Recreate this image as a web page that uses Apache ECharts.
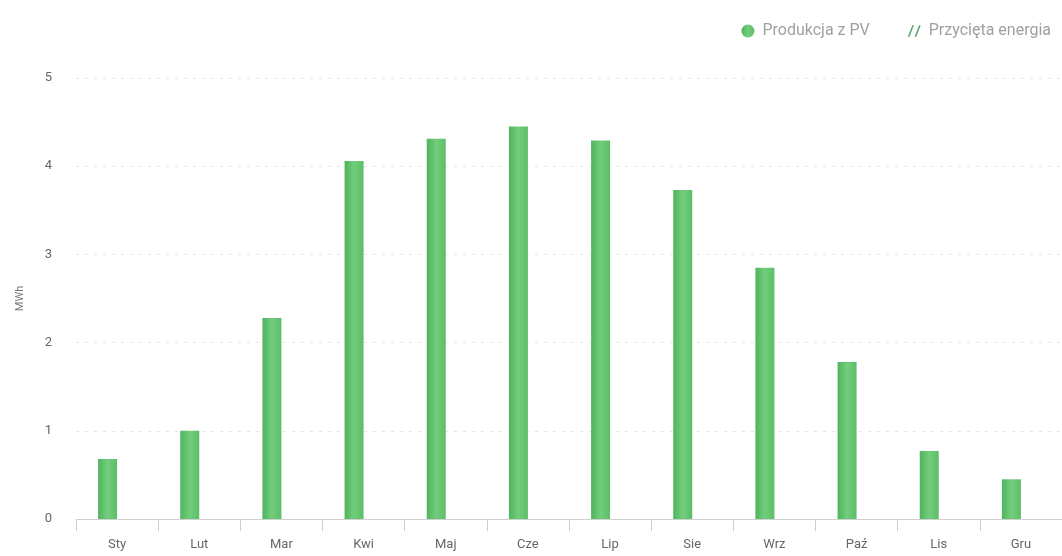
<!DOCTYPE html>
<html>
<head>
<meta charset="utf-8">
<script src="https://cdn.jsdelivr.net/npm/echarts@6/dist/echarts.min.js"></script>
<style>
html,body{margin:0;padding:0;background:#fff;}
#chart{width:1062px;height:556px;}
</style>
</head>
<body>
<div id="chart"></div>
<script>
const months = ['Sty','Lut','Mar','Kwi','Maj','Cze','Lip','Sie','Wrz','Paź','Lis','Gru'];
const pvProduction = [0.68, 1.00, 2.28, 4.06, 4.31, 4.45, 4.29, 3.73, 2.85, 1.78, 0.77, 0.45];
const curtailedEnergy = [0, 0, 0, 0, 0, 0, 0, 0, 0, 0, 0, 0];
const seriesNames = ['Produkcja z PV', 'Przycięta energia'];
const yAxisName = 'MWh';

const chart = echarts.init(document.getElementById('chart'), null, {renderer:'canvas'});
const hatchIcon = 'path://M4,0 L5.5,0 L1.5,10 L0,10 Z M10,0 L11.5,0 L7.5,10 L6,10 Z';
chart.setOption({
  animation: false,
  textStyle: {fontFamily: 'Roboto, "Noto Sans", sans-serif'},
  legend: {
    top: 18,
    right: 6,
    itemWidth: 13,
    itemHeight: 13,
    itemGap: 38,
    textStyle: {color: '#a0a0a0', fontSize: 16, padding: [0, 0, 0, 3]},
    data: [
      {name: seriesNames[0], icon: 'circle'},
      {name: seriesNames[1], icon: hatchIcon}
    ]
  },
  grid: {left: 76, right: -9, top: 78, bottom: 37},
  xAxis: {
    type: 'category',
    data: months,
    axisLine: {lineStyle: {color: '#cfcfcf', width: 1}},
    axisTick: {show: true, length: 12, lineStyle: {color: '#cfcfcf'}},
    axisLabel: {color: '#666', fontSize: 13, margin: 19}
  },
  yAxis: {
    type: 'value',
    min: 0,
    max: 5,
    interval: 1,
    name: yAxisName,
    nameLocation: 'middle',
    nameGap: 50,
    nameRotate: 90,
    nameTextStyle: {color: '#777', fontSize: 11},
    axisLine: {show: false},
    axisTick: {show: false},
    axisLabel: {color: '#666', fontSize: 13, margin: 24},
    splitLine: {lineStyle: {color: '#e6e6e6', type: [3, 6]}}
  },
  series: [
    {
      name: seriesNames[0],
      type: 'bar',
      data: pvProduction,
      barWidth: 19,
      barGap: '0%',
      itemStyle: {
        color: {
          type: 'linear', x: 0, y: 0, x2: 1, y2: 0,
          colorStops: [
            {offset: 0, color: '#4fb45e'},
            {offset: 0.5, color: '#72cd7c'},
            {offset: 1, color: '#5dbd68'}
          ]
        }
      }
    },
    {
      name: seriesNames[1],
      type: 'bar',
      data: curtailedEnergy,
      barWidth: 19,
      itemStyle: {color: '#5aa870'}
    }
  ]
});
</script>
</body>
</html>
